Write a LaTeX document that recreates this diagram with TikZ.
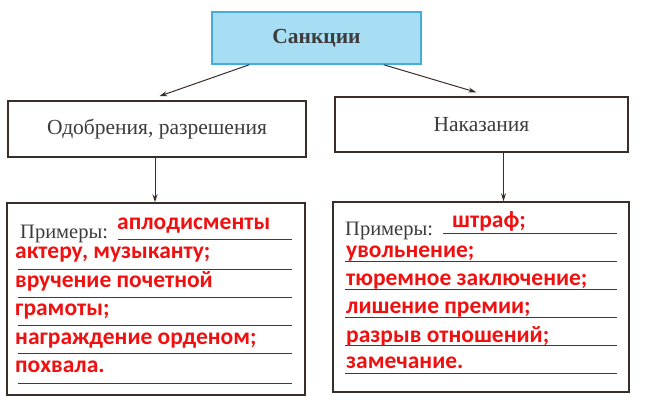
\documentclass[tikz,border=0pt]{standalone}
\usepackage{fontspec}
\setmainfont{Liberation Serif}
\newfontfamily\redfont{Carlito}
\usetikzlibrary{arrows.meta}

\definecolor{framecol}{HTML}{3A2E2A}
\definecolor{skyfill}{HTML}{A8DEF4}
\definecolor{skyline}{HTML}{45ACDF}
\definecolor{ansred}{HTML}{F01010}
\definecolor{inkgray}{HTML}{3C3C3C}

\begin{document}
\begin{tikzpicture}[x=1pt, y=-1pt,
  box/.style = {draw=framecol, line width=1.5pt, inner sep=0pt, text=inkgray,
                font=\fontsize{21.5}{21.5}\selectfont},
  topbox/.style = {draw=skyline, fill=skyfill, line width=1.5pt, inner sep=0pt,
                   text=inkgray, font=\bfseries\fontsize{21.5}{21.5}\selectfont},
  arr/.style = {draw=framecol, line width=1pt, -{Stealth[length=8pt,width=5pt]}},
  label/.style = {anchor=base west, inner sep=0pt, text=inkgray,
                  font=\fontsize{20.5}{20.5}\selectfont},
  answer/.style = {anchor=base west, inner sep=0pt, text=ansred,
                   font=\redfont\bfseries\fontsize{23.5}{23.5}\selectfont},
  wline/.style = {draw=inkgray, line width=1pt}]
  \useasboundingbox (0,0) rectangle (649,410);
  \fill[white] (0,0) rectangle (649,410);

  \node[topbox, minimum width=209pt, minimum height=52pt] (sank) at (316.5,38) {Санкции};
  \node[box, minimum width=298pt, minimum height=56pt] (odob) at (157,129) {Одобрения, разрешения};
  \node[box, minimum width=293pt, minimum height=55pt] (nak) at (481.5,124.5) {Наказания};
  \node[box, minimum width=298pt, minimum height=192pt] (primL) at (156,299) {};
  \node[box, minimum width=296pt, minimum height=190pt] (primR) at (481,297) {};

  \draw[arr] ([xshift=38pt]sank.south west) -- ([xshift=152pt,yshift=4pt]odob.north west);
  \draw[arr] ([xshift=-38pt]sank.south east) -- ([xshift=142pt,yshift=4pt]nak.north west);
  \draw[arr] ([xshift=-2pt]odob.south) -- ([xshift=-2pt]odob.south |- primL.north);
  \draw[arr] ([xshift=22pt]nak.south) -- ([xshift=22pt]nak.south |- primR.north);

  % left examples
  \node[label] (exL) at (20,238) {Примеры:};
  \draw[wline] (118,239) -- (292,239);
  \draw[wline] (18,269) -- (292,269);
  \draw[wline] (18,297) -- (292,297);
  \draw[wline] (18,325) -- (292,325);
  \draw[wline] (18,353) -- (292,353);
  \draw[wline] (18,383) -- (292,383);
  \node[answer] (a1) at (117,229) {аплодисменты};
  \node[answer] (a2) at (15,258) {актеру, музыканту;};
  \node[answer] (a3) at (15,287) {вручение почетной};
  \node[answer] (a4) at (15,315) {грамоты;};
  \node[answer] (a5) at (15,344) {награждение орденом;};
  \node[answer] (a6) at (15,372) {похвала.};

  % right examples
  \node[label] (exR) at (345,235) {Примеры:};
  \draw[wline] (443,233) -- (617,233);
  \draw[wline] (345,261) -- (617,261);
  \draw[wline] (345,289) -- (617,289);
  \draw[wline] (345,317) -- (617,317);
  \draw[wline] (345,345) -- (617,345);
  \draw[wline] (345,373) -- (617,373);
  \node[answer] (b1) at (452,227) {штраф;};
  \node[answer] (b2) at (346,257) {увольнение;};
  \node[answer] (b3) at (346,285) {тюремное заключение;};
  \node[answer] (b4) at (346,313) {лишение премии;};
  \node[answer] (b5) at (346,342) {разрыв отношений;};
  \node[answer] (b6) at (346,368) {замечание.};
\end{tikzpicture}
\end{document}
